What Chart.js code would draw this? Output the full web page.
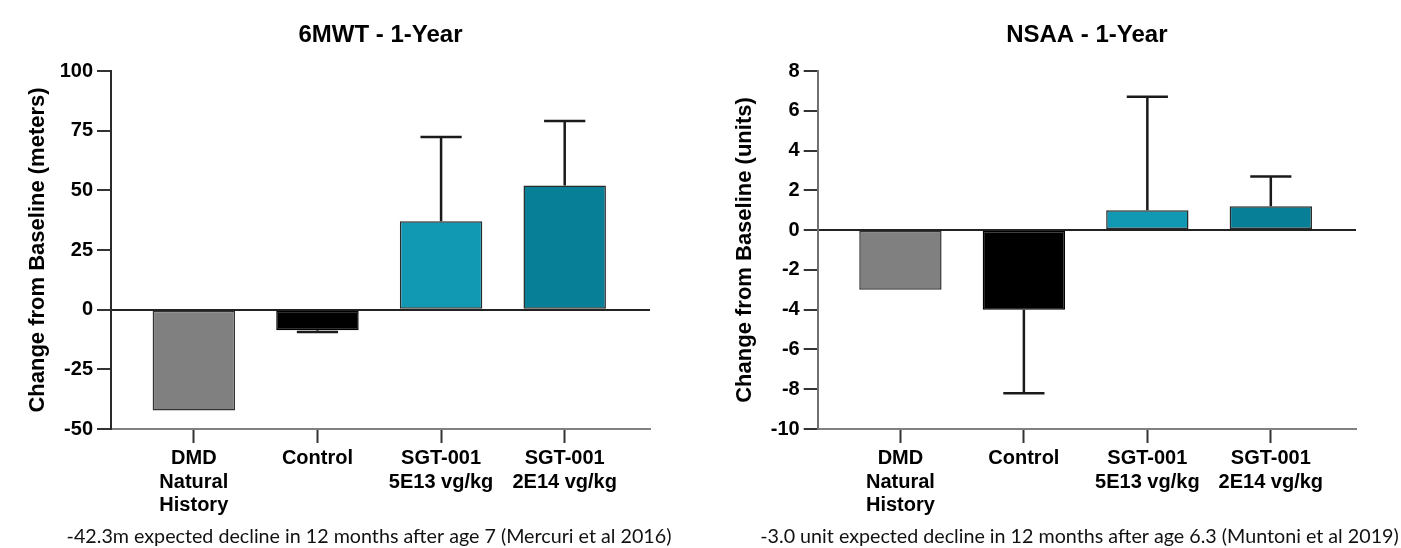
<!DOCTYPE html>
<html><head><meta charset="utf-8">
<script src="https://cdn.jsdelivr.net/npm/chart.js@4.4.1/dist/chart.umd.min.js"></script>
<style>
html,body{margin:0;padding:0;background:#fff;}
#wrap{position:relative;width:1401px;height:548px;overflow:hidden;}
.box{position:absolute;top:0;}
</style></head><body>
<div id="wrap">
  <div class="box" style="left:0;width:700px;height:548px"><canvas id="c1" width="700" height="548"></canvas></div>
  <div class="box" style="left:700px;width:701px;height:548px"><canvas id="c2" width="701" height="548"></canvas></div>
</div>
<script>
// ---- data ----
const categories = [['DMD', 'Natural', 'History'], 'Control', ['SGT-001', '5E13 vg/kg'], ['SGT-001', '2E14 vg/kg']];
const mwtValues = [-42.3, -8.6, 37.0, 52.0];
const mwtErrorEnds = [null, -9.4, 72.3, 79.0];
const nsaaValues = [-3.0, -4.0, 1.0, 1.2];
const nsaaErrorEnds = [null, -8.2, 6.7, 2.7];
const mwtTicks = [-50, -25, 0, 25, 50, 75, 100];
const nsaaTicks = [-10, -8, -6, -4, -2, 0, 2, 4, 6, 8];
const titles = ['6MWT - 1-Year', 'NSAA - 1-Year'];
const yTitles = ['Change from Baseline (meters)', 'Change from Baseline (units)'];
const footnotes = ['-42.3m expected decline in 12 months after age 7 (Mercuri et al 2016)',
                   '-3.0 unit expected decline in 12 months after age 6.3 (Muntoni et al 2019)'];

// ---- styles ----
const FONT = "'Liberation Sans', Arial, Helvetica, sans-serif";
const barColors = ['#808080', '#000000', '#1199B4', '#077F96'];
const barBorders = ['#333333', '#000000', '#2a2a2a', '#2a2a2a'];

// footnote font size fitted to reference width
const mctx = document.createElement('canvas').getContext('2d');
mctx.font = "100px Lato";
const fnSize = 100 * 605 / mctx.measureText(footnotes[0]).width;

const errorBarPlugin = {
  id: 'errorBars',
  afterDatasetsDraw(chart, args, opts) {
    const ctx = chart.ctx;
    const xs = chart.scales.x, ys = chart.scales.y;
    const meta = chart.getDatasetMeta(0);
    const ds = chart.data.datasets[0];
    ctx.save();
    ctx.strokeStyle = '#1a1a1a';
    ctx.lineWidth = 2.5;
    opts.ends.forEach((e, i) => {
      if (e === null) return;
      const x = xs.getPixelForValue(i);
      const y0 = ys.getPixelForValue(ds.data[i].y);
      const y1 = ys.getPixelForValue(e);
      const half = meta.data[i].width / 4;
      ctx.beginPath();
      ctx.moveTo(x, y0); ctx.lineTo(x, y1);
      ctx.moveTo(x - half, y1); ctx.lineTo(x + half, y1);
      ctx.stroke();
    });
    ctx.restore();
  }
};

const footnotePlugin = {
  id: 'footnote',
  afterDraw(chart, args, opts) {
    const ctx = chart.ctx;
    ctx.save();
    ctx.font = fnSize + 'px Lato';
    ctx.fillStyle = '#111';
    ctx.textAlign = 'center';
    ctx.textBaseline = 'middle';
    ctx.fillText(opts.text, opts.cx, opts.cy);
    ctx.restore();
  }
};

function makeChart(id, cfg) {
  return new Chart(document.getElementById(id), {
    type: 'bar',
    data: {
      datasets: [{
        data: cfg.values.map((v, i) => ({x: i, y: v})),
        backgroundColor: barColors,
        borderColor: barBorders,
        borderWidth: 1.5,
        borderSkipped: false,
        barPercentage: 1,
        categoryPercentage: 0.667
      }]
    },
    options: {
      responsive: false,
      animation: false,
      events: [],
      layout: {padding: {left: 0, right: cfg.padRight, top: 0, bottom: 31}},
      plugins: {
        legend: {display: false},
        tooltip: {enabled: false},
        title: {
          display: true, text: cfg.title, fullSize: false, color: '#000',
          font: {family: FONT, size: 24, weight: 'bold', lineHeight: 1.2},
          padding: {top: 20.6, bottom: 21.6}
        },
        errorBars: {ends: cfg.errors},
        footnote: {text: cfg.footnote, cx: cfg.footCx, cy: 537}
      },
      scales: {
        x: {
          type: 'linear', min: -0.67, max: 3.69, offset: false,
          afterBuildTicks: s => { s.ticks = categories.map((_, i) => ({value: i})); },
          afterFit: s => { s.height = 88; },
          ticks: {
            callback: v => categories[v],
            autoSkip: false, maxRotation: 0, minRotation: 0, padding: 4, color: '#000',
            font: {family: FONT, size: 20, weight: 'bold', lineHeight: 1.17}
          },
          grid: {offset: false, drawOnChartArea: false, drawTicks: true, tickLength: 14, tickColor: '#333', tickWidth: 2},
          border: {display: true, color: '#808080', width: 2}
        },
        y: {
          min: cfg.ticks[0], max: cfg.ticks[cfg.ticks.length - 1],
          afterBuildTicks: s => { s.ticks = cfg.ticks.map(v => ({value: v})); },
          afterFit: s => { s.width = cfg.axisLeft; },
          ticks: {
            padding: 4, color: '#000',
            font: {family: FONT, size: 20, weight: 'bold'}
          },
          grid: {
            drawOnChartArea: true, drawTicks: true, tickLength: 14, tickColor: '#333', tickWidth: 2,
            lineWidth: 2,
            color: c => (c.tick && c.tick.value === 0) ? '#222' : 'rgba(0,0,0,0)'
          },
          border: {display: true, color: cfg.axisColor, width: 2},
          title: {
            display: true, text: cfg.yTitle, color: '#000',
            font: {family: FONT, size: 22, weight: 'bold', lineHeight: 1.2},
            padding: {top: cfg.yTitlePad, bottom: 0}
          }
        }
      }
    },
    plugins: [errorBarPlugin, footnotePlugin]
  });
}

makeChart('c1', {
  values: mwtValues, errors: mwtErrorEnds, ticks: mwtTicks, title: titles[0], yTitle: yTitles[0],
  footnote: footnotes[0], footCx: 369, padRight: 50, axisLeft: 111, yTitlePad: 25, axisColor: '#2a2a2a'
});
makeChart('c2', {
  values: nsaaValues, errors: nsaaErrorEnds, ticks: nsaaTicks, title: titles[1], yTitle: yTitles[1],
  footnote: footnotes[1], footCx: 379.5, padRight: 45, axisLeft: 117.7, yTitlePad: 31.5, axisColor: '#707070'
});
</script>
</body></html>
